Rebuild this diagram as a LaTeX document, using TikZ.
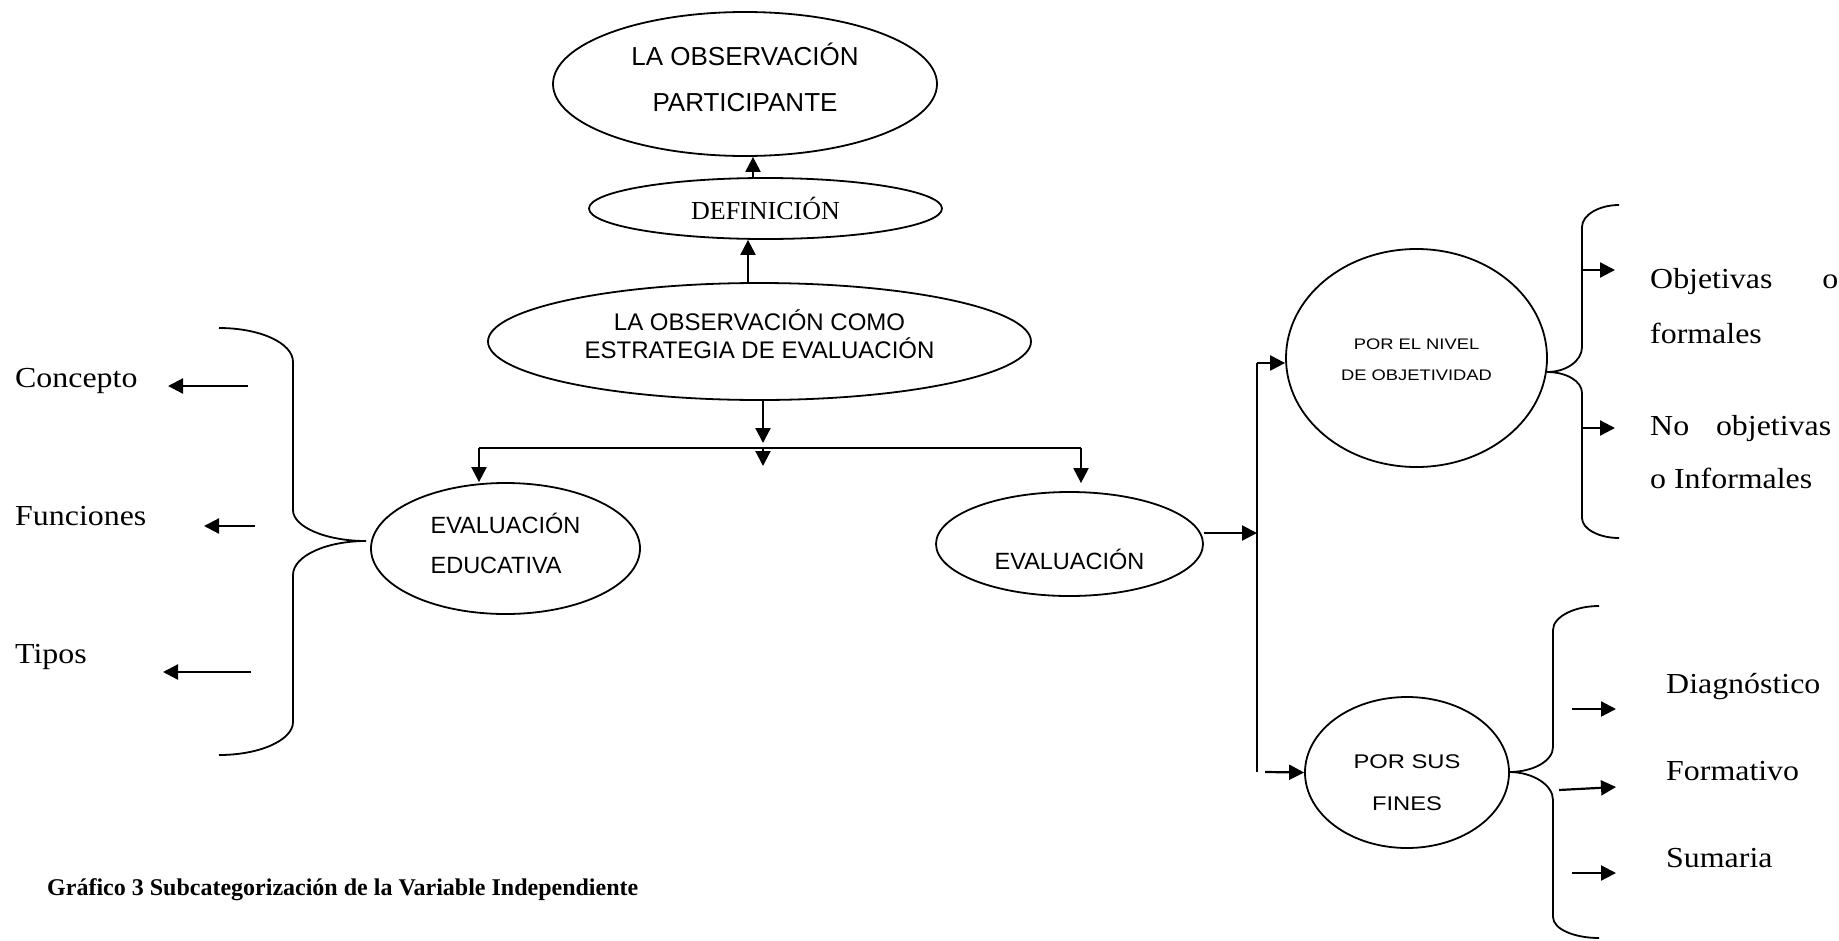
\documentclass[tikz,border=0pt]{standalone}
\usepackage{fontspec}
\setmainfont{Liberation Serif}
\newfontfamily\arialf{Liberation Sans}
\newfontfamily\arialw{Liberation Sans}[FakeStretch=1.2]
\newfontfamily\tnrw{Liberation Serif}[FakeStretch=1.1]
\usetikzlibrary{arrows.meta,shapes.geometric}
\newcommand{\ctext}[2]{\raisebox{#1}[0pt][0pt]{\vtop{\lineskiplimit=-1000pt\relax\halign{\hfil##\hfil\cr#2\crcr}}}}
\newcommand{\ltext}[2]{\raisebox{#1}[0pt][0pt]{\vtop{\lineskiplimit=-1000pt\relax\halign{##\hfil\cr#2\crcr}}}}
\begin{document}
\begin{tikzpicture}[x=1pt,y=-1pt,
  ell/.style={draw,ellipse,line width=1.8pt,inner sep=0pt},
  arr/.style={line width=2.2pt,-{Triangle[length=15pt,width=15pt]}},
  bar/.style={line width=2pt},
  brace/.style={line width=1.8pt},
  lbl/.style={anchor=base west,inner sep=0pt,font=\tnrw\fontsize{29pt}{34pt}\selectfont},
]
\useasboundingbox (0,0) rectangle (1839,940);

% ellipses
\node[ell,minimum width=384pt,minimum height=144pt,font=\arialf\fontsize{26pt}{46pt}\selectfont] (top) at (745,84) {\ctext{19pt}{LA OBSERVACIÓN\cr PARTICIPANTE}};
\node[ell,minimum width=353pt,minimum height=61pt,font=\fontsize{26pt}{30pt}\selectfont] (def) at (765.5,208.5) {\ctext{-10.5pt}{DEFINICIÓN}};
\node[ell,minimum width=543pt,minimum height=117pt,font=\arialf\fontsize{24pt}{28pt}\selectfont] (main) at (759.5,341.5) {\ctext{11.5pt}{LA OBSERVACIÓN COMO\cr ESTRATEGIA DE EVALUACIÓN}};
\node[ell,minimum width=269pt,minimum height=131pt,font=\arialf\fontsize{23.5pt}{40pt}\selectfont] (educ) at (505.5,548.5) {\ltext{15.5pt}{EVALUACIÓN\cr EDUCATIVA}};
\node[ell,minimum width=267pt,minimum height=104pt,font=\arialf\fontsize{23.5pt}{28pt}\selectfont] (eval) at (1069.5,544) {\ctext{-25pt}{EVALUACIÓN}};
\node[ell,minimum width=261pt,minimum height=218pt,font=\arialw\fontsize{15.3pt}{31pt}\selectfont] (nivel) at (1416.5,358) {\ctext{9pt}{POR EL NIVEL\cr DE OBJETIVIDAD}};
\node[ell,minimum width=204pt,minimum height=151pt,font=\arialw\fontsize{19.8pt}{42pt}\selectfont] (fines) at (1407,772.5) {\ctext{4.5pt}{POR SUS\cr FINES}};

% central connectors
\draw[arr] (def.north -| 753,0) -- (top.south -| 753,0);
\draw[arr] (main.north -| 748,0) -- (def.south -| 748,0);
\coordinate (jc) at (763,448);
\coordinate (jcend) at (763,466);
\coordinate (jl) at (479,448);
\coordinate (jr) at (1081,448);
\draw[arr,shorten >=5pt] (main.south -| jc) -- (jc);
\draw[bar] (jl) -- (jr);
\draw[arr] (jc) -- (jcend);
\draw[arr] (jl) -- (jl |- educ.north);
\draw[arr,shorten >=8pt] (jr) -- (jr |- eval.north);

% right trunk
\coordinate (vt) at (1257,363);
\coordinate (vb) at (1257,772);
\path (eval.east) ++(0,-11) coordinate (e1);
\draw[arr] (e1) -- (e1 -| vt);
\draw[bar] (vt) -- (vb);
\draw[arr] (vt) -- (vt -| nivel.west);
\coordinate (fa) at (1265,772);
\draw[arr] (fa) -- (fines.west);

% braces
\draw[brace] (219,328) .. controls (260,328) and (293,343) .. (293,362) -- (293,510)
  .. controls (293,527) and (326,541) .. (366,541)
  .. controls (326,541) and (293,556) .. (293,575) -- (293,722)
  .. controls (293,740) and (260,755) .. (219,755);
\draw[brace] (1619,205) .. controls (1599,205) and (1582,215) .. (1582,227) -- (1582,347)
  .. controls (1582,361) and (1566,372) .. (1547,372)
  .. controls (1566,372) and (1582,381) .. (1582,393) -- (1582,518)
  .. controls (1582,529) and (1599,538) .. (1619,538);
\draw[brace] (1599,606) .. controls (1574,606) and (1553,617) .. (1553,630) -- (1553,747)
  .. controls (1553,761) and (1533,772) .. (1509,772)
  .. controls (1533,772) and (1553,785) .. (1553,800) -- (1553,917)
  .. controls (1553,929) and (1574,938) .. (1599,938);

% left labels and arrows
\node[lbl] (concepto) at (15,387) {Concepto};
\node[lbl] (funciones) at (15,525) {Funciones};
\node[lbl] (tipos) at (15,663) {Tipos};
\coordinate (c1s) at (248,386); \coordinate (c1e) at (168,386);
\coordinate (c2s) at (255,526); \coordinate (c2e) at (204,526);
\coordinate (c3s) at (251,672); \coordinate (c3e) at (163,672);
\draw[arr] (c1s) -- (c1e);
\draw[arr] (c2s) -- (c2e);
\draw[arr] (c3s) -- (c3e);

% right labels and arrows
\node[lbl] (obj1) at (1650,288) {\hbox to 188pt{Objetivas\hfil o}};
\node[lbl] (obj2) at (1650,343) {formales};
\node[lbl] (nobj1) at (1650,435) {\hbox to 181pt{No\hfil objetivas}};
\node[lbl] (nobj2) at (1650,488) {o Informales};
\coordinate (r1s) at (1582,270); \coordinate (r1e) at (1615,270);
\coordinate (r2s) at (1582,428); \coordinate (r2e) at (1615,428);
\draw[arr] (r1s) -- (r1e);
\draw[arr] (r2s) -- (r2e);

\node[lbl] (diag) at (1666,693) {Diagnóstico};
\node[lbl] (form) at (1666,780) {Formativo};
\node[lbl] (suma) at (1666,867) {Sumaria};
\coordinate (d1s) at (1572,709); \coordinate (d1e) at (1616,709);
\coordinate (d2s) at (1559,790); \coordinate (d2e) at (1616,787);
\coordinate (d3s) at (1572,873); \coordinate (d3e) at (1616,873);
\draw[arr] (d1s) -- (d1e);
\draw[arr] (d2s) -- (d2e);
\draw[arr] (d3s) -- (d3e);

% caption
\node[anchor=base west,inner sep=0pt,font=\bfseries\fontsize{24pt}{28pt}\selectfont] (cap) at (47,895) {Gráfico 3 Subcategorización de la Variable Independiente};
\end{tikzpicture}
\end{document}
